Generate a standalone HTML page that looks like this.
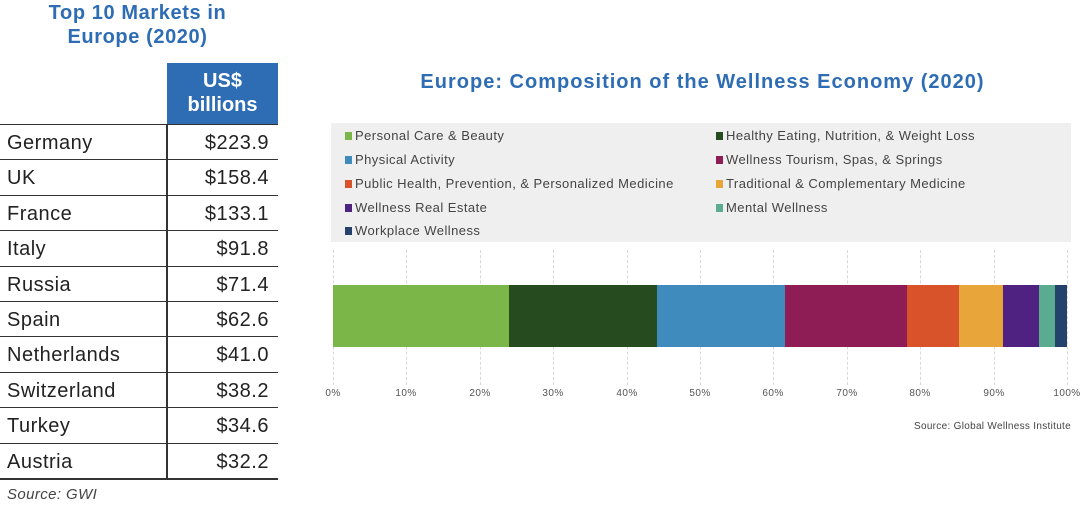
<!DOCTYPE html>
<html><head><meta charset="utf-8"><style>
body{margin:0;width:1084px;height:506px;background:#fff;position:relative;overflow:hidden;font-family:"Liberation Sans",sans-serif;}
.a{position:absolute;}
.t1{color:#2e6db4;font-weight:bold;font-size:20px;text-align:center;line-height:24px;letter-spacing:0.6px;}
.row{position:absolute;left:0;width:278px;height:35px;border-top:1.5px solid #333;font-size:20px;color:#222;letter-spacing:0.5px;}
.row span{position:absolute;top:7px;}
.row .n{left:7px}
.row .v{right:9px}
.leg{position:absolute;font-size:13px;color:#444;letter-spacing:0.45px;}
.leg i{display:inline-block;width:7px;height:8px;margin-right:3px;}
.tk{position:absolute;top:388px;font-size:10px;color:#555;transform:translateX(-50%);letter-spacing:0.4px;}
.gl{position:absolute;top:250px;height:135px;border-left:1px dashed #d8d8d8;}
.seg{position:absolute;top:285px;height:62px;}
</style></head><body>
<div class="a t1" style="left:20px;top:1px;width:235px;">Top 10 Markets in<br>Europe (2020)</div>
<div class="a" style="left:167px;top:63px;width:111px;height:61px;background:#2e6db4;color:#fff;font-weight:bold;font-size:20px;text-align:center;line-height:24px;padding-top:6px;box-sizing:border-box;">US$<br>billions</div>
<div class="a" style="left:166px;top:124px;width:1.5px;height:354px;background:#333;"></div>
<div class="row" style="top:124px"><span class="n">Germany</span><span class="v">$223.9</span></div>
<div class="row" style="top:159.4px"><span class="n">UK</span><span class="v">$158.4</span></div>
<div class="row" style="top:194.8px"><span class="n">France</span><span class="v">$133.1</span></div>
<div class="row" style="top:230.2px"><span class="n">Italy</span><span class="v">$91.8</span></div>
<div class="row" style="top:265.6px"><span class="n">Russia</span><span class="v">$71.4</span></div>
<div class="row" style="top:301px"><span class="n">Spain</span><span class="v">$62.6</span></div>
<div class="row" style="top:336.4px"><span class="n">Netherlands</span><span class="v">$41.0</span></div>
<div class="row" style="top:371.8px"><span class="n">Switzerland</span><span class="v">$38.2</span></div>
<div class="row" style="top:407.2px"><span class="n">Turkey</span><span class="v">$34.6</span></div>
<div class="row" style="top:442.6px"><span class="n">Austria</span><span class="v">$32.2</span></div>
<div class="a" style="left:0;top:478px;width:278px;height:1.5px;background:#333;"></div>
<div class="a" style="left:7px;top:486px;font-size:15px;font-style:italic;color:#444;letter-spacing:0.4px;">Source: GWI</div>

<div class="a t1" style="left:330px;top:70px;width:745px;letter-spacing:1px;">Europe: Composition of the Wellness Economy (2020)</div>
<div class="a" style="left:331px;top:123px;width:740px;height:119px;background:#efefef;"></div>
<div class="leg" style="left:345px;top:128px"><i style="background:#7ab648"></i>Personal Care &amp; Beauty</div>
<div class="leg" style="left:345px;top:152px"><i style="background:#3f8bbe"></i>Physical Activity</div>
<div class="leg" style="left:345px;top:176px"><i style="background:#d9532a"></i>Public Health, Prevention, &amp; Personalized Medicine</div>
<div class="leg" style="left:345px;top:200px"><i style="background:#4f2181"></i>Wellness Real Estate</div>
<div class="leg" style="left:345px;top:223px"><i style="background:#24426b"></i>Workplace Wellness</div>
<div class="leg" style="left:716px;top:128px"><i style="background:#264b1f"></i>Healthy Eating, Nutrition, &amp; Weight Loss</div>
<div class="leg" style="left:716px;top:152px"><i style="background:#8f1d55"></i>Wellness Tourism, Spas, &amp; Springs</div>
<div class="leg" style="left:716px;top:176px"><i style="background:#e8a63a"></i>Traditional &amp; Complementary Medicine</div>
<div class="leg" style="left:716px;top:200px"><i style="background:#5aab8f"></i>Mental Wellness</div>

<div class="gl" style="left:333px"></div><div class="gl" style="left:406px"></div><div class="gl" style="left:480px"></div><div class="gl" style="left:553px"></div><div class="gl" style="left:627px"></div><div class="gl" style="left:700px"></div><div class="gl" style="left:773px"></div><div class="gl" style="left:847px"></div><div class="gl" style="left:920px"></div><div class="gl" style="left:994px"></div><div class="gl" style="left:1067px"></div>

<div class="seg" style="left:333px;width:176px;background:#7ab648"></div>
<div class="seg" style="left:509px;width:148px;background:#264b1f"></div>
<div class="seg" style="left:657px;width:128px;background:#3f8bbe"></div>
<div class="seg" style="left:785px;width:122px;background:#8f1d55"></div>
<div class="seg" style="left:907px;width:52px;background:#d9532a"></div>
<div class="seg" style="left:959px;width:44px;background:#e8a63a"></div>
<div class="seg" style="left:1003px;width:36px;background:#4f2181"></div>
<div class="seg" style="left:1039px;width:16px;background:#5aab8f"></div>
<div class="seg" style="left:1055px;width:12px;background:#24426b"></div>

<div class="tk" style="left:333px">0%</div><div class="tk" style="left:406px">10%</div><div class="tk" style="left:480px">20%</div><div class="tk" style="left:553px">30%</div><div class="tk" style="left:627px">40%</div><div class="tk" style="left:700px">50%</div><div class="tk" style="left:773px">60%</div><div class="tk" style="left:847px">70%</div><div class="tk" style="left:920px">80%</div><div class="tk" style="left:994px">90%</div><div class="tk" style="left:1067px">100%</div>
<div class="a" style="right:13px;top:421px;font-size:10px;color:#444;letter-spacing:0.3px;">Source: Global Wellness Institute</div>
</body></html>
